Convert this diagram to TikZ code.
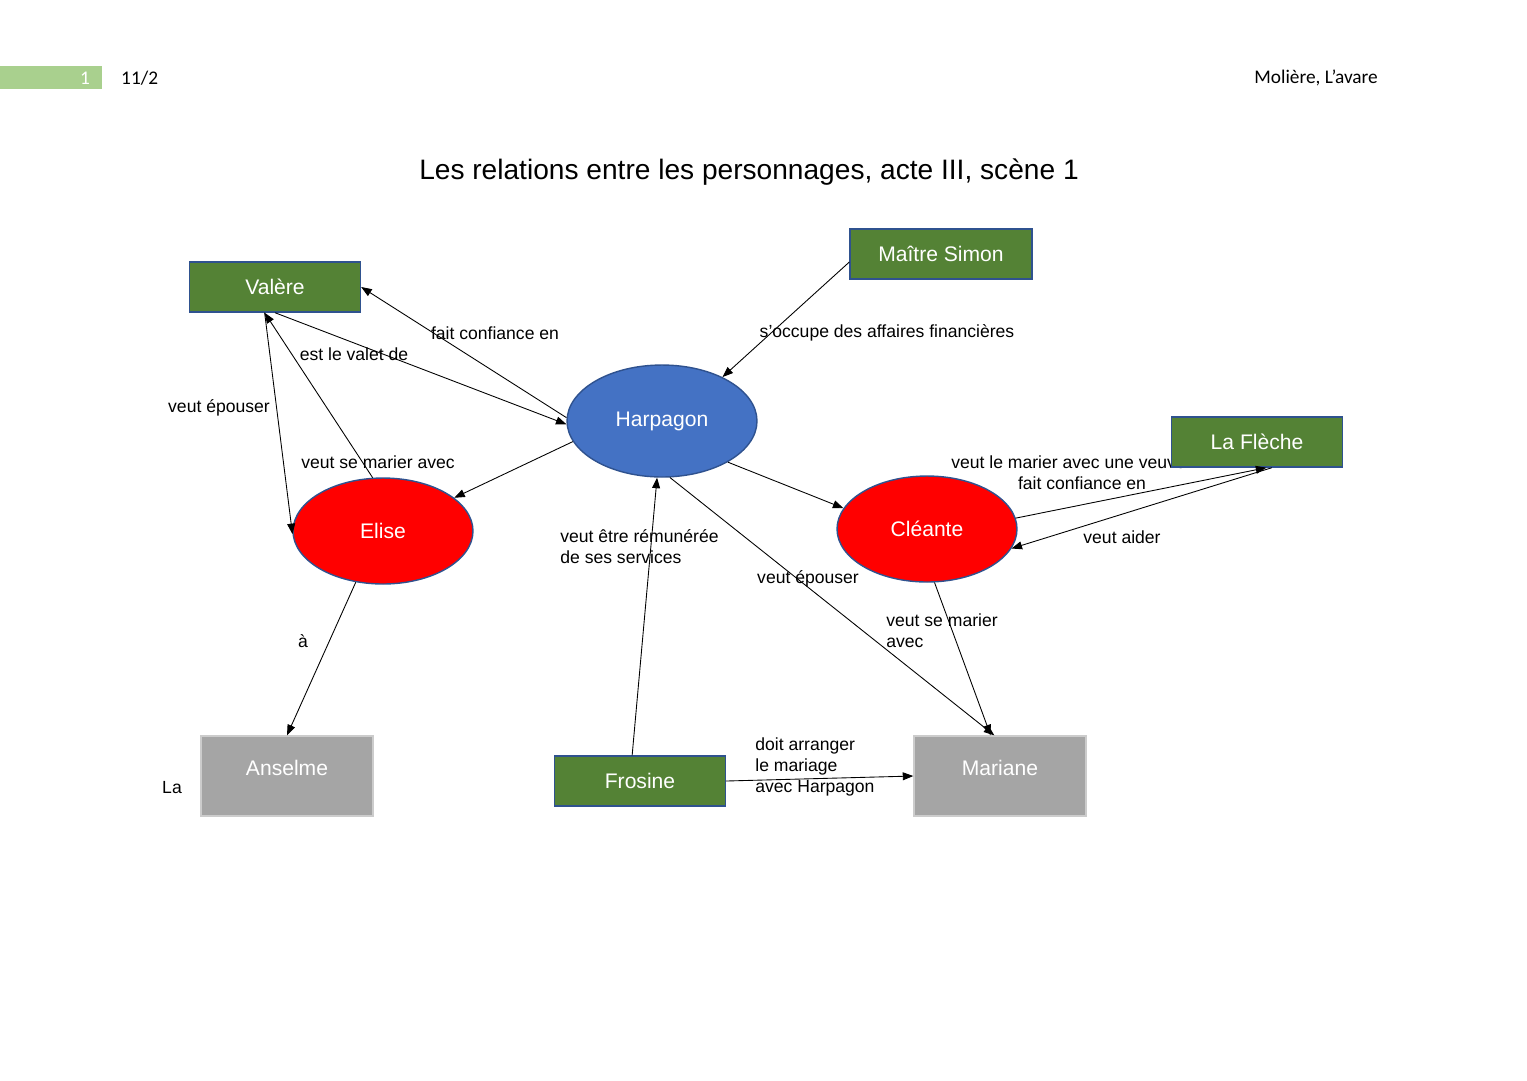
\documentclass[tikz,border=0pt]{standalone}
\usepackage{fontspec}
\setmainfont{Liberation Sans}
\newfontfamily\hdrfont{Carlito}
\usetikzlibrary{arrows.meta,positioning,shapes.geometric}
\definecolor{boxgreen}{HTML}{548235}
\definecolor{boxedge}{HTML}{2F528F}
\definecolor{harpblue}{HTML}{4472C4}
\definecolor{boxgray}{HTML}{A5A5A5}
\definecolor{bargreen}{HTML}{A9D08E}
\tikzset{
  person/.style={rectangle, fill=boxgreen, draw=boxedge, line width=0.8pt, text=white,
    minimum width=3.42cm, minimum height=1cm, font=\fontsize{12}{14}\selectfont},
  grayperson/.style={rectangle, fill=boxgray, draw=gray!40, line width=0.8pt, text=white,
    minimum width=3.44cm, minimum height=1.6cm, font=\fontsize{12}{14}\selectfont},
  hero/.style={ellipse, fill=red, draw=boxedge, line width=0.8pt, text=white,
    minimum width=3.6cm, minimum height=2.12cm, font=\fontsize{12}{14}\selectfont},
  rel/.style={-{Triangle[length=6pt,width=4.5pt]}, line width=0.5pt},
  lbl/.style={font=\fontsize{10}{12}\selectfont, inner sep=0pt, align=left}
}
\begin{document}
\begin{tikzpicture}[x=0.02cm, y=-0.02cm]
  \useasboundingbox (0,0) rectangle (1527,1080);
  % header
  \fill[bargreen] (0,66) rectangle (102,89);
  \node[text=white, font=\hdrfont\fontsize{11}{13}\selectfont] (pagenum) at (85,78) {1};
  \node[font=\hdrfont\fontsize{11}{13}\selectfont, anchor=west] (date) at (115,78) {11/2};
  \node[font=\hdrfont\fontsize{11}{13}\selectfont, anchor=east] (work) at (1384,78) {Molière, L’avare};
  \node[font=\fontsize{16}{19}\selectfont] (title) at (749,172) {Les relations entre les personnages, acte III, scène 1};
  % labels drawn first (La Flèche box covers one)
  \node[lbl, anchor=west] (lbmarier) at (951,462) {veut le marier avec une veuve};
  \node[lbl] (lbfc) at (1082,483) {fait confiance en};
  % characters
  \node[person] (val) at (275,287) {Valère};
  \node[person, minimum width=3.64cm] (sim) at (941,254) {Maître Simon};
  \node[person] (flc) at (1257,442) {La Flèche};
  \node[person] (fro) at (640,781) {Frosine};
  \node[grayperson] (ans) at (287,776) {};
  \node[grayperson] (mar) at (1000,776) {};
  \node[text=white, font=\fontsize{12}{14}\selectfont] (ansname) at (287,768) {Anselme};
  \node[text=white, font=\fontsize{12}{14}\selectfont] (marname) at (1000,768) {Mariane};
  \node[hero, fill=harpblue, minimum width=3.8cm, minimum height=2.24cm] (harp) at (662,421) {Harpagon};
  \node[hero] (el) at (383,531) {Elise};
  \node[hero] (cl) at (927,529) {Cléante};
  % relations
  \draw[rel] (harp.178) -- (val.east);
  \draw[rel] (val.south) -- (harp.182);
  \draw[rel] (el.101) -- (val.248);
  \draw[rel] (val.248) -- (el.182);
  \draw[rel] (harp.193) -- (el.25);
  \draw[rel] (sim.185) -- (harp.36);
  \draw[rel] (harp.-32) -- (cl.166);
  \draw[rel] (harp.-82) -- (mar.98);
  \draw[rel] (fro.107) -- (harp.265);
  \draw[rel] (cl.7) -- (flc.-70);
  \draw[rel] (flc.-60) -- (cl.-13);
  \draw[rel] (cl.-82) -- (mar.103);
  \draw[rel] (el.242) -- (ans.north);
  \draw[rel] (fro.east) -- (mar.west);
  % relation labels
  \node[lbl] (lbconf) at (495,333) {fait confiance en};
  \node[lbl] (lbvalet) at (354,354) {est le valet de};
  \node[lbl] (lbepval) at (219,408) {veut épouser};
  \node[lbl] (lbmarel) at (378,462) {veut se marier avec};
  \node[lbl] (lbsimon) at (887,333) {s’occupe des affaires financières};
  \node[lbl, anchor=west] (lbremu) at (560,547) {veut être rémunérée\\de ses services};
  \node[lbl] (lbephar) at (808,579) {veut épouser};
  \node[lbl] (lbaider) at (1122,537) {veut aider};
  \node[lbl, anchor=west] (lbmarcl) at (886,631) {veut se marier\\avec};
  \node[lbl] (lba) at (303,641) {à};
  \node[lbl, anchor=west] (lbarr) at (755,767) {doit arranger\\le mariage\\avec Harpagon};
  \node[lbl] (lbla) at (172,788) {La};
\end{tikzpicture}
\end{document}
